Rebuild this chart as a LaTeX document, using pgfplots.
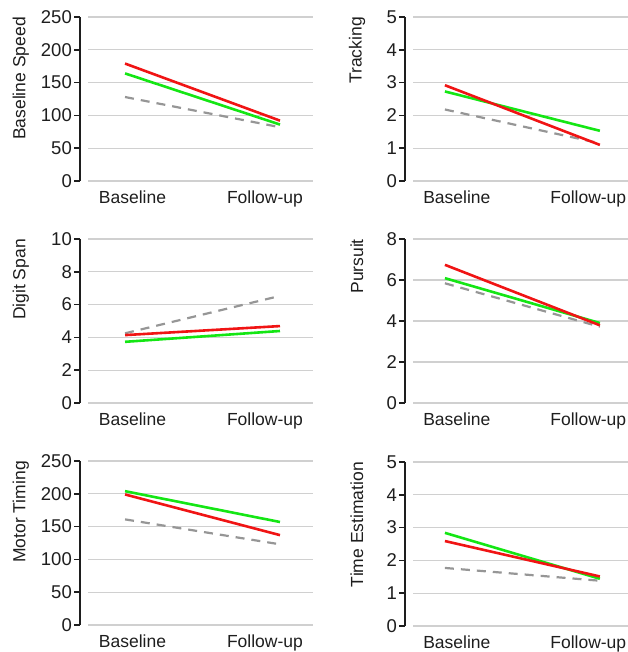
\documentclass[border=0pt]{standalone}
\usepackage{fontspec}
\setmainfont{Liberation Sans}
\usepackage{pgfplots}
\pgfplotsset{compat=1.18}
\definecolor{lred}{RGB}{240,20,20}
\definecolor{lgreen}{RGB}{20,230,20}
\definecolor{lgray}{RGB}{150,150,150}
\definecolor{gridgray}{RGB}{208,208,208}
\definecolor{txt}{RGB}{30,30,30}
\pgfplotsset{
  panel/.style={
    scale only axis, width=225pt, height=164pt,
    anchor=south west, clip=false,
    axis y line*=left, axis x line*=bottom,
    x axis line style={draw=none},
    y axis line style={-, line width=1.6pt, color=txt},
    axis y line shift=8pt,
    ymajorgrids, grid style={gridgray, line width=1.3pt},
    tick align=outside, ytick pos=left,
    major tick length=6pt,
    ytick style={line width=1.6pt, color=txt},
    xtick style={draw=none},
    ymin=0,
    xticklabels={Baseline,Follow-up},
    every tick label/.append style={font=\fontsize{17.5}{20}\selectfont, text=txt},
    /pgf/number format/assume math mode=true,
    yticklabel style={inner sep=1pt, xshift=-1pt, font=\fontsize{18.5}{20}\selectfont},
    xticklabel style={yshift=0pt},
    ylabel style={font=\fontsize{17.5}{20}\selectfont, text=txt, anchor=east, inner sep=0pt},
  },
  colL/.style={xmin=0.761, xmax=2.213, xtick={1.048,1.903},
    ylabel style={at={(axis description cs:-0.298,1.0)}}},
  colR/.style={xmin=0.794, xmax=2.246, xtick={1.077,1.925},
    ylabel style={at={(axis description cs:-0.249,1.0)}}},
  rl/.style={lred, line width=2.6pt},
  gl/.style={lgreen, line width=2.6pt},
  dl/.style={lgray, line width=2.2pt, dash pattern=on 9pt off 7pt},
}
\begin{document}
\begin{tikzpicture}[x=1pt,y=1pt]
% Row 1 left
\begin{axis}[panel, colL, at={(88pt,471pt)}, ymax=250, ytick={0,50,...,250}, ylabel={Baseline Speed}]
\addplot[dl] coordinates {(1,128) (2,82)};
\addplot[gl] coordinates {(1,164) (2,86)};
\addplot[rl] coordinates {(1,179) (2,92)};
\end{axis}
% Row 1 right
\begin{axis}[panel, colR, at={(413pt,471pt)}, ymax=5, ytick={0,1,...,5}, ylabel={Tracking}]
\addplot[dl] coordinates {(1,2.18) (2,1.15)};
\addplot[gl] coordinates {(1,2.73) (2,1.53)};
\addplot[rl] coordinates {(1,2.92) (2,1.10)};
\end{axis}
% Row 2 left
\begin{axis}[panel, colL, at={(88pt,249pt)}, ymax=10, ytick={0,2,...,10}, ylabel={Digit Span}]
\addplot[dl] coordinates {(1,4.25) (2,6.53)};
\addplot[gl] coordinates {(1,3.73) (2,4.39)};
\addplot[rl] coordinates {(1,4.14) (2,4.69)};
\end{axis}
% Row 2 right
\begin{axis}[panel, colR, at={(413pt,249pt)}, ymax=8, ytick={0,2,...,8}, ylabel={Pursuit}]
\addplot[dl] coordinates {(1,5.84) (2,3.72)};
\addplot[gl] coordinates {(1,6.09) (2,3.90)};
\addplot[rl] coordinates {(1,6.74) (2,3.79)};
\end{axis}
% Row 3 left
\begin{axis}[panel, colL, at={(88pt,27pt)}, ymax=250, ytick={0,50,...,250}, ylabel={Motor Timing}]
\addplot[dl] coordinates {(1,161) (2,123)};
\addplot[gl] coordinates {(1,204) (2,157)};
\addplot[rl] coordinates {(1,199) (2,137)};
\end{axis}
% Row 3 right
\begin{axis}[panel, colR, at={(413pt,26pt)}, ymax=5, ytick={0,1,...,5}, ylabel={Time Estimation}]
\addplot[dl] coordinates {(1,1.77) (2,1.38)};
\addplot[gl] coordinates {(1,2.84) (2,1.44)};
\addplot[rl] coordinates {(1,2.59) (2,1.51)};
\end{axis}
\pgfresetboundingbox
\useasboundingbox (0pt,0pt) rectangle (627pt,652pt);
\end{tikzpicture}
\end{document}
